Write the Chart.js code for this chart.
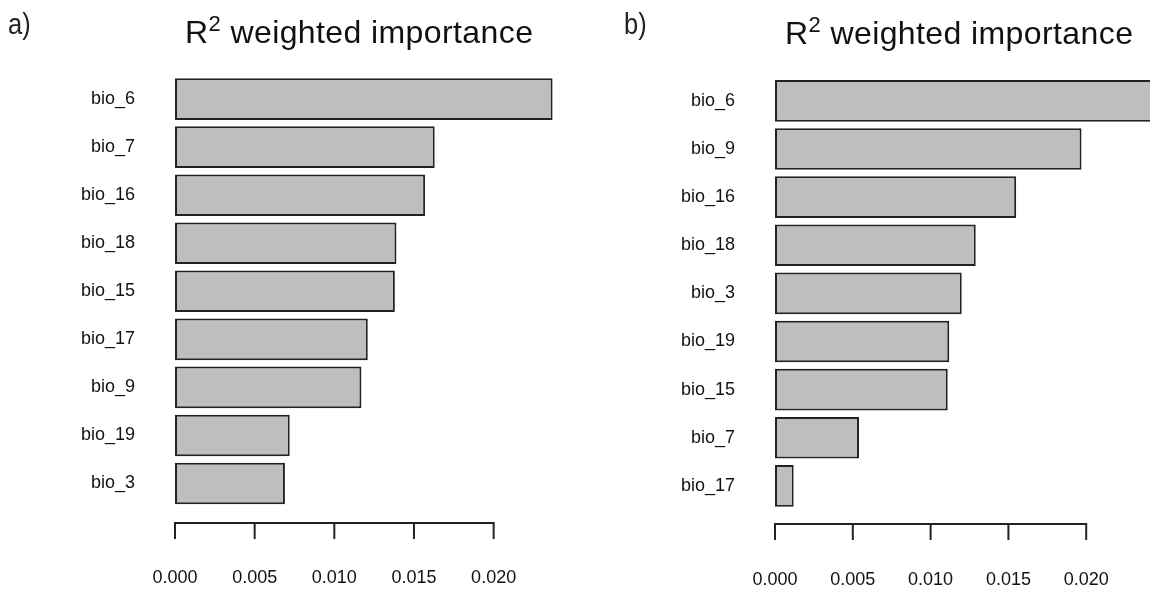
<!DOCTYPE html>
<html>
<head>
<meta charset="utf-8">
<script src="https://cdn.jsdelivr.net/npm/chart.js@4.4.0/dist/chart.umd.min.js"></script>
<style>
  html, body { margin: 0; padding: 0; background: #fff; }
  body { width: 1150px; height: 590px; position: relative; overflow: hidden; font-family: "Liberation Sans", Arial, sans-serif; }
  .panel { position: absolute; top: 0; width: 575px; height: 590px; }
  #panelA { left: 0; }
  #panelB { left: 575px; }
  .tag { position: absolute; font-size: 30px; line-height: 30px; color: #222; transform: scaleX(0.85); transform-origin: left top; }
  .title { position: absolute; font-size: 32px; line-height: 32px; letter-spacing: 0.4px; color: #111; white-space: nowrap; }
  .title .sup { font-size: 22px; position: relative; top: -12px; }
</style>
</head>
<body>
<div class="panel" id="panelA"><canvas id="chartA" width="575" height="590"></canvas></div>
<div class="panel" id="panelB"><canvas id="chartB" width="575" height="590"></canvas></div>

<div class="tag" style="left:8px; top:9px;">a)</div>
<div class="title" style="left:185px; top:16px;">R<span class="sup">2</span> weighted importance</div>
<div class="tag" style="left:624px; top:9px;">b)</div>
<div class="title" style="left:785px; top:17px;">R<span class="sup">2</span> weighted importance</div>

<script>
// panel a) valeurs
const labelsA = ['bio_6', 'bio_7', 'bio_16', 'bio_18', 'bio_15', 'bio_17', 'bio_9', 'bio_19', 'bio_3'];
const valuesA = [0.0237, 0.0163, 0.0157, 0.0139, 0.0138, 0.0121, 0.0117, 0.0072, 0.0069];

// panel b) - bio_6 depasse le bord droit de l'image
const labelsB = ['bio_6', 'bio_9', 'bio_16', 'bio_18', 'bio_3', 'bio_19', 'bio_15', 'bio_7', 'bio_17'];
const valuesB = [0.0252, 0.0197, 0.0155, 0.0129, 0.0120, 0.0112, 0.0111, 0.0054, 0.0012];

const tickValues = [0, 0.005, 0.010, 0.015, 0.020];

// axe style R : ligne de 0 a 0.020 avec petites graduations vers le bas
const rAxis = {
    id: 'rAxis',
    afterDraw(chart, args, opts) {
        const x = chart.scales.x;
        const ctx = chart.ctx;
        const y0 = Math.round(chart.chartArea.bottom + opts.gap);
        const first = x.getPixelForValue(tickValues[0]);
        const last = x.getPixelForValue(tickValues[tickValues.length - 1]);
        ctx.save();
        ctx.strokeStyle = '#222';
        ctx.lineWidth = 2;
        ctx.beginPath();
        ctx.moveTo(first - 1, y0);
        ctx.lineTo(last + 1, y0);
        tickValues.forEach(v => {
            const px = x.getPixelForValue(v);
            ctx.moveTo(px, y0);
            ctx.lineTo(px, y0 + 16);
        });
        ctx.stroke();
        ctx.restore();
    }
};

function renderPanel(id, labels, values, cfg) {
    const ctx = document.getElementById(id).getContext('2d');
    new Chart(ctx, {
        type: 'bar',
        data: {
            labels: labels,
            datasets: [{
                data: values,
                backgroundColor: '#bebebe',
                borderColor: '#222',
                borderWidth: 2,
                borderSkipped: false,
                categoryPercentage: 1,
                barPercentage: 0.866
            }]
        },
        plugins: [rAxis],
        options: {
            indexAxis: 'y',
            responsive: false,
            animation: false,
            layout: { padding: { top: cfg.top, right: cfg.right, left: 0, bottom: 0 } },
            plugins: {
                legend: { display: false },
                tooltip: { enabled: false },
                rAxis: { gap: cfg.gap }
            },
            scales: {
                x: {
                    type: 'linear',
                    min: 0,
                    max: cfg.max,
                    // grille cachee, tickLength sert juste a descendre les labels
                    grid: { display: false, drawTicks: true, tickLength: cfg.labelDrop },
                    border: { display: false },
                    afterBuildTicks: s => { s.ticks = tickValues.map(v => ({ value: v })); },
                    afterFit: s => { s.height = cfg.xHeight; },
                    ticks: {
                        padding: 0,
                        color: '#111',
                        font: { family: '"Liberation Sans", Arial, sans-serif', size: 18 },
                        maxRotation: 0,
                        callback: v => v.toFixed(3)
                    }
                },
                y: {
                    grid: { display: false, drawTicks: false },
                    border: { display: false },
                    afterFit: s => { s.width = cfg.yWidth; },
                    ticks: {
                        padding: 40,
                        color: '#111',
                        font: { family: '"Liberation Sans", Arial, sans-serif', size: 18 }
                    }
                }
            }
        }
    });
}

renderPanel('chartA', labelsA, valuesA, { top: 75.1, right: 1.7, max: 0.025, yWidth: 175, xHeight: 82.5, gap: 15, labelDrop: 60 });
renderPanel('chartB', labelsB, valuesB, { top: 76.8, right: 0, max: 0.0241, yWidth: 200, xHeight: 80.1, gap: 14, labelDrop: 59 });
</script>
</body>
</html>
